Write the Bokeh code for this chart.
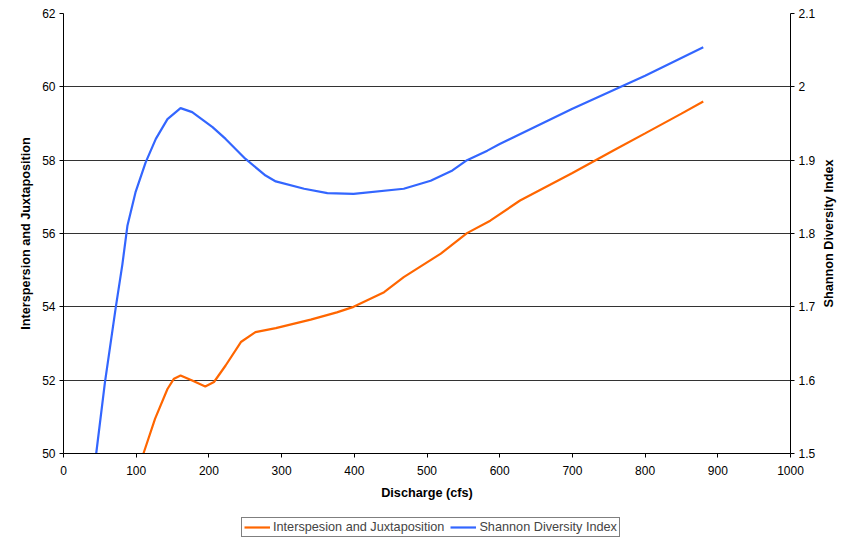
import math
from bokeh.plotting import figure
from bokeh.layouts import column, row
from bokeh.models import (Range1d, LinearAxis, FixedTicker, CustomJSTickFormatter,
                          Legend, LegendItem)
from bokeh.core.properties import value
from bokeh.embed import file_html
from bokeh.resources import INLINE

# Interspersion and Juxtaposition (left axis)
discharge_ij = [95, 110, 126, 143, 152, 161, 177, 195, 207, 223, 244, 264, 292, 340,
                376, 399, 441, 468, 519, 555, 587, 628, 700, 757, 800, 850, 880]
ij_values = [49.0, 50.0, 50.95, 51.76, 52.04, 52.13, 51.99, 51.83, 51.95, 52.4, 53.04,
             53.31, 53.42, 53.65, 53.85, 54.0, 54.4, 54.81, 55.45, 56.01, 56.35, 56.9,
             57.65, 58.27, 58.73, 59.27, 59.6]

# Shannon Diversity Index (right axis)
discharge_sdi = [30, 45, 57, 72, 81, 88, 99, 113, 127, 143, 161, 177, 205, 223, 250,
                 278, 292, 331, 363, 399, 468, 505, 535, 555, 583, 600, 700, 800, 880]
sdi_values = [1.40, 1.50, 1.597, 1.70, 1.758, 1.811, 1.856, 1.897, 1.929, 1.956, 1.971,
              1.9655, 1.945, 1.929, 1.902, 1.879, 1.871, 1.861, 1.855, 1.854, 1.861,
              1.872, 1.886, 1.90, 1.913, 1.922, 1.970, 2.015, 2.054]

x_ticks = [0, 100, 200, 300, 400, 500, 600, 700, 800, 900, 1000]
left_ticks = [50, 52, 54, 56, 58, 60, 62]
right_ticks = [1.5, 1.6, 1.7, 1.8, 1.9, 2.0, 2.1]

series_names = ["Interspesion and Juxtaposition", "Shannon Diversity Index"]
series_colors = ["#FF6600", "#3366FF"]
x_title = "Discharge (cfs)"
left_title = "Interspersion and Juxtaposition"
right_title = "Shannon Diversity Index"

FONT = "Liberation Sans"
TOP, BOTTOM = 13, 61

p = figure(frame_width=727, frame_height=440, output_backend="svg",
           toolbar_location=None, x_range=Range1d(0, 1000), y_range=Range1d(50, 62),
           min_border_left=63, min_border_top=TOP, min_border_right=30,
           min_border_bottom=BOTTOM)
p.outline_line_color = None
p.background_fill_color = "white"
p.border_fill_color = "white"
p.extra_y_ranges = {"sdi": Range1d(1.5, 2.1)}

p.xgrid.visible = False
p.ygrid.ticker = FixedTicker(ticks=left_ticks)
p.ygrid.grid_line_color = "#333333"
p.ygrid.grid_line_width = 1

xa = p.xaxis[0]
xa.ticker = FixedTicker(ticks=x_ticks)
xa.axis_label = x_title

ya = p.yaxis[0]
ya.ticker = FixedTicker(ticks=left_ticks)
ya.axis_label = left_title

ra = LinearAxis(y_range_name="sdi", ticker=FixedTicker(ticks=right_ticks),
                formatter=CustomJSTickFormatter(code="return String(Math.round(tick*10)/10);"))
p.add_layout(ra, "right")

for ax in [xa, ya, ra]:
    ax.axis_line_color = "black"
    ax.axis_line_width = 1
    ax.major_tick_line_color = "black"
    ax.major_tick_out = 4
    ax.major_tick_in = 0
    ax.minor_tick_line_color = None
    ax.major_label_text_font = FONT
    ax.major_label_text_font_size = "12px"
    ax.major_label_text_color = "black"
    ax.axis_label_text_font = FONT
    ax.axis_label_text_font_size = "12.7px"
    ax.axis_label_text_font_style = "bold"
    ax.axis_label_text_color = "black"

xa.major_label_standoff = 8
xa.axis_label_standoff = 8
ya.major_label_standoff = 4
ya.axis_label_standoff = 6
ra.major_label_standoff = 4

r1 = p.line(discharge_ij, ij_values, line_color=series_colors[0], line_width=2.2)
r2 = p.line(discharge_sdi, sdi_values, line_color=series_colors[1], line_width=2.2,
            y_range_name="sdi")

# right axis title strip (reads bottom-to-top)
rl = figure(width=22, height=TOP + 440 + BOTTOM, output_backend="svg",
            toolbar_location=None, x_range=Range1d(0, 22), y_range=Range1d(0, 1),
            x_axis_location=None, y_axis_location=None,
            min_border_left=0, min_border_right=0, min_border_top=TOP,
            min_border_bottom=BOTTOM)
rl.outline_line_color = None
rl.xgrid.visible = False
rl.ygrid.visible = False
rl.text(x=[8], y=[0.5], text=[right_title], angle=math.pi / 2,
        text_align="center", text_baseline="middle", text_font=value(FONT),
        text_font_size="12.7px", text_font_style="bold", text_color="black")

# legend strip below the chart
lg = figure(width=840, height=26, output_backend="svg", toolbar_location=None,
            x_range=Range1d(0, 1), y_range=Range1d(0, 1),
            x_axis_location=None, y_axis_location=None,
            min_border=0)
lg.outline_line_color = None
lg.xgrid.visible = False
lg.ygrid.visible = False
d1 = lg.line([2, 3], [2, 2], line_color=series_colors[0], line_width=2.2)
d2 = lg.line([2, 3], [2, 2], line_color=series_colors[1], line_width=2.2)

legend = Legend(items=[LegendItem(label=series_names[0], renderers=[d1]),
                       LegendItem(label=series_names[1], renderers=[d2])],
                orientation="horizontal", location=(241, 3))
legend.label_text_font = FONT
legend.label_text_font_size = "12.7px"
legend.border_line_color = "black"
legend.border_line_width = 1
legend.padding = 2
legend.spacing = 6
legend.margin = 0
legend.glyph_width = 26
legend.glyph_height = 12
legend.label_height = 12
legend.label_standoff = 3
lg.add_layout(legend, "center")

open("out.html", "w").write(file_html(column(row(p, rl), lg), INLINE))
